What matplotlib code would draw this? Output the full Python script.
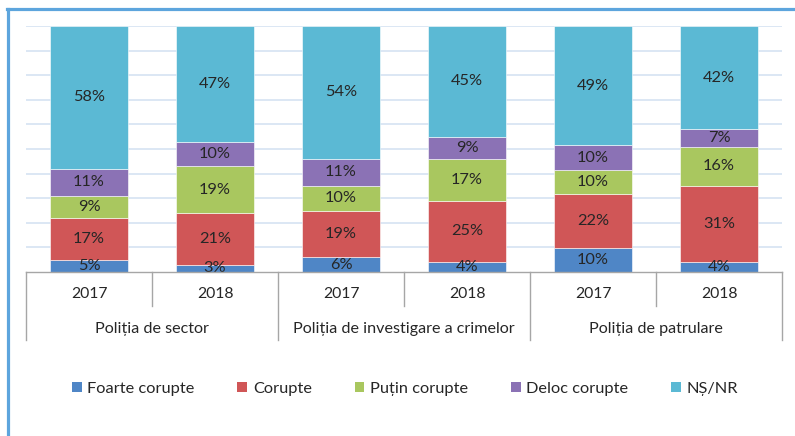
import matplotlib
matplotlib.use('Agg')
import matplotlib.pyplot as plt
from matplotlib.lines import Line2D
from matplotlib.patches import Patch
import numpy as np

plt.rcParams['font.family'] = ['Lato', 'DejaVu Sans']

groups = ['Poliția de sector', 'Poliția de investigare a crimelor', 'Poliția de patrulare']
years = ['2017', '2018']
series = ['Foarte corupte', 'Corupte', 'Puțin corupte', 'Deloc corupte', 'NȘ/NR']
colors = ['#4F86C6', '#D05657', '#A9C75F', '#8B72B5', '#5BB9D4']

foarte = [5, 3, 6, 4, 10, 4]
corupte = [17, 21, 19, 25, 22, 31]
putin = [9, 19, 10, 17, 10, 16]
deloc = [11, 10, 11, 9, 10, 7]
nsnr = [58, 47, 54, 45, 49, 42]

data = np.array([foarte, corupte, putin, deloc, nsnr], dtype=float)
shares = data / data.sum(axis=0) * 100  # 100% stacked

W, H = 795, 436
fig = plt.figure(figsize=(W / 100, H / 100), dpi=100)
ax = fig.add_axes([26 / W, 1 - 272 / H, (782 - 26) / W, (272 - 26) / H])

x = np.arange(len(foarte))
bottom = np.zeros(len(x))
for i, name in enumerate(series):
    ax.bar(x, shares[i], 0.62, bottom=bottom, color=colors[i],
           edgecolor='white', linewidth=0.4, label=name, zorder=3)
    for j in range(len(x)):
        ax.text(x[j], bottom[j] + shares[i][j] / 2, '%d%%' % data[i][j],
                ha='center', va='center', fontsize=11.8, color='#262626', zorder=4)
    bottom += shares[i]

ax.set_xlim(-0.5, len(x) - 0.5)
ax.set_ylim(0, 100)
for y in range(10, 101, 10):
    ax.axhline(y, color='#D6E3F2', linewidth=1.2, zorder=1)
ax.axhline(0, color='#A6A6A6', linewidth=1, zorder=5, clip_on=False)
for s in ax.spines.values():
    s.set_visible(False)
ax.set_xticks([])
ax.set_yticks([])

# two-level category axis
tr = ax.get_xaxis_transform()
lc = '#A6A6A6'
for k in range(len(x) + 1):
    b = k - 0.5
    low = -0.276 if k % 2 == 0 else -0.138
    ax.plot([b, b], [0, low], color=lc, linewidth=1, transform=tr, clip_on=False)
for j in range(len(x)):
    ax.text(x[j], -0.089, years[j % 2], transform=tr, ha='center', va='center',
            fontsize=11.3, color='#262626')
for g, name in enumerate(groups):
    ax.text(2 * g + 0.5, -0.232, name, transform=tr, ha='center', va='center',
            fontsize=11.6, color='#262626')

handles = [Patch(facecolor=c, edgecolor='none') for c in colors]
fig.legend(handles, series, loc='center', bbox_to_anchor=(405 / W, 1 - 389 / H),
           ncol=5, frameon=False, fontsize=11.8, handlelength=0.6, handleheight=0.6,
           handletextpad=0.35, columnspacing=2.6, labelcolor='#262626')

# chart frame (partially visible)
bc = '#5DA5DD'
fig.add_artist(Line2D([8 / W, 8 / W], [0, 1 - 9 / H], color=bc, linewidth=2.3))
fig.add_artist(Line2D([7 / W, 1], [1 - 9 / H, 1 - 9 / H], color=bc, linewidth=2.3))

fig.savefig('out.png', dpi=100)
